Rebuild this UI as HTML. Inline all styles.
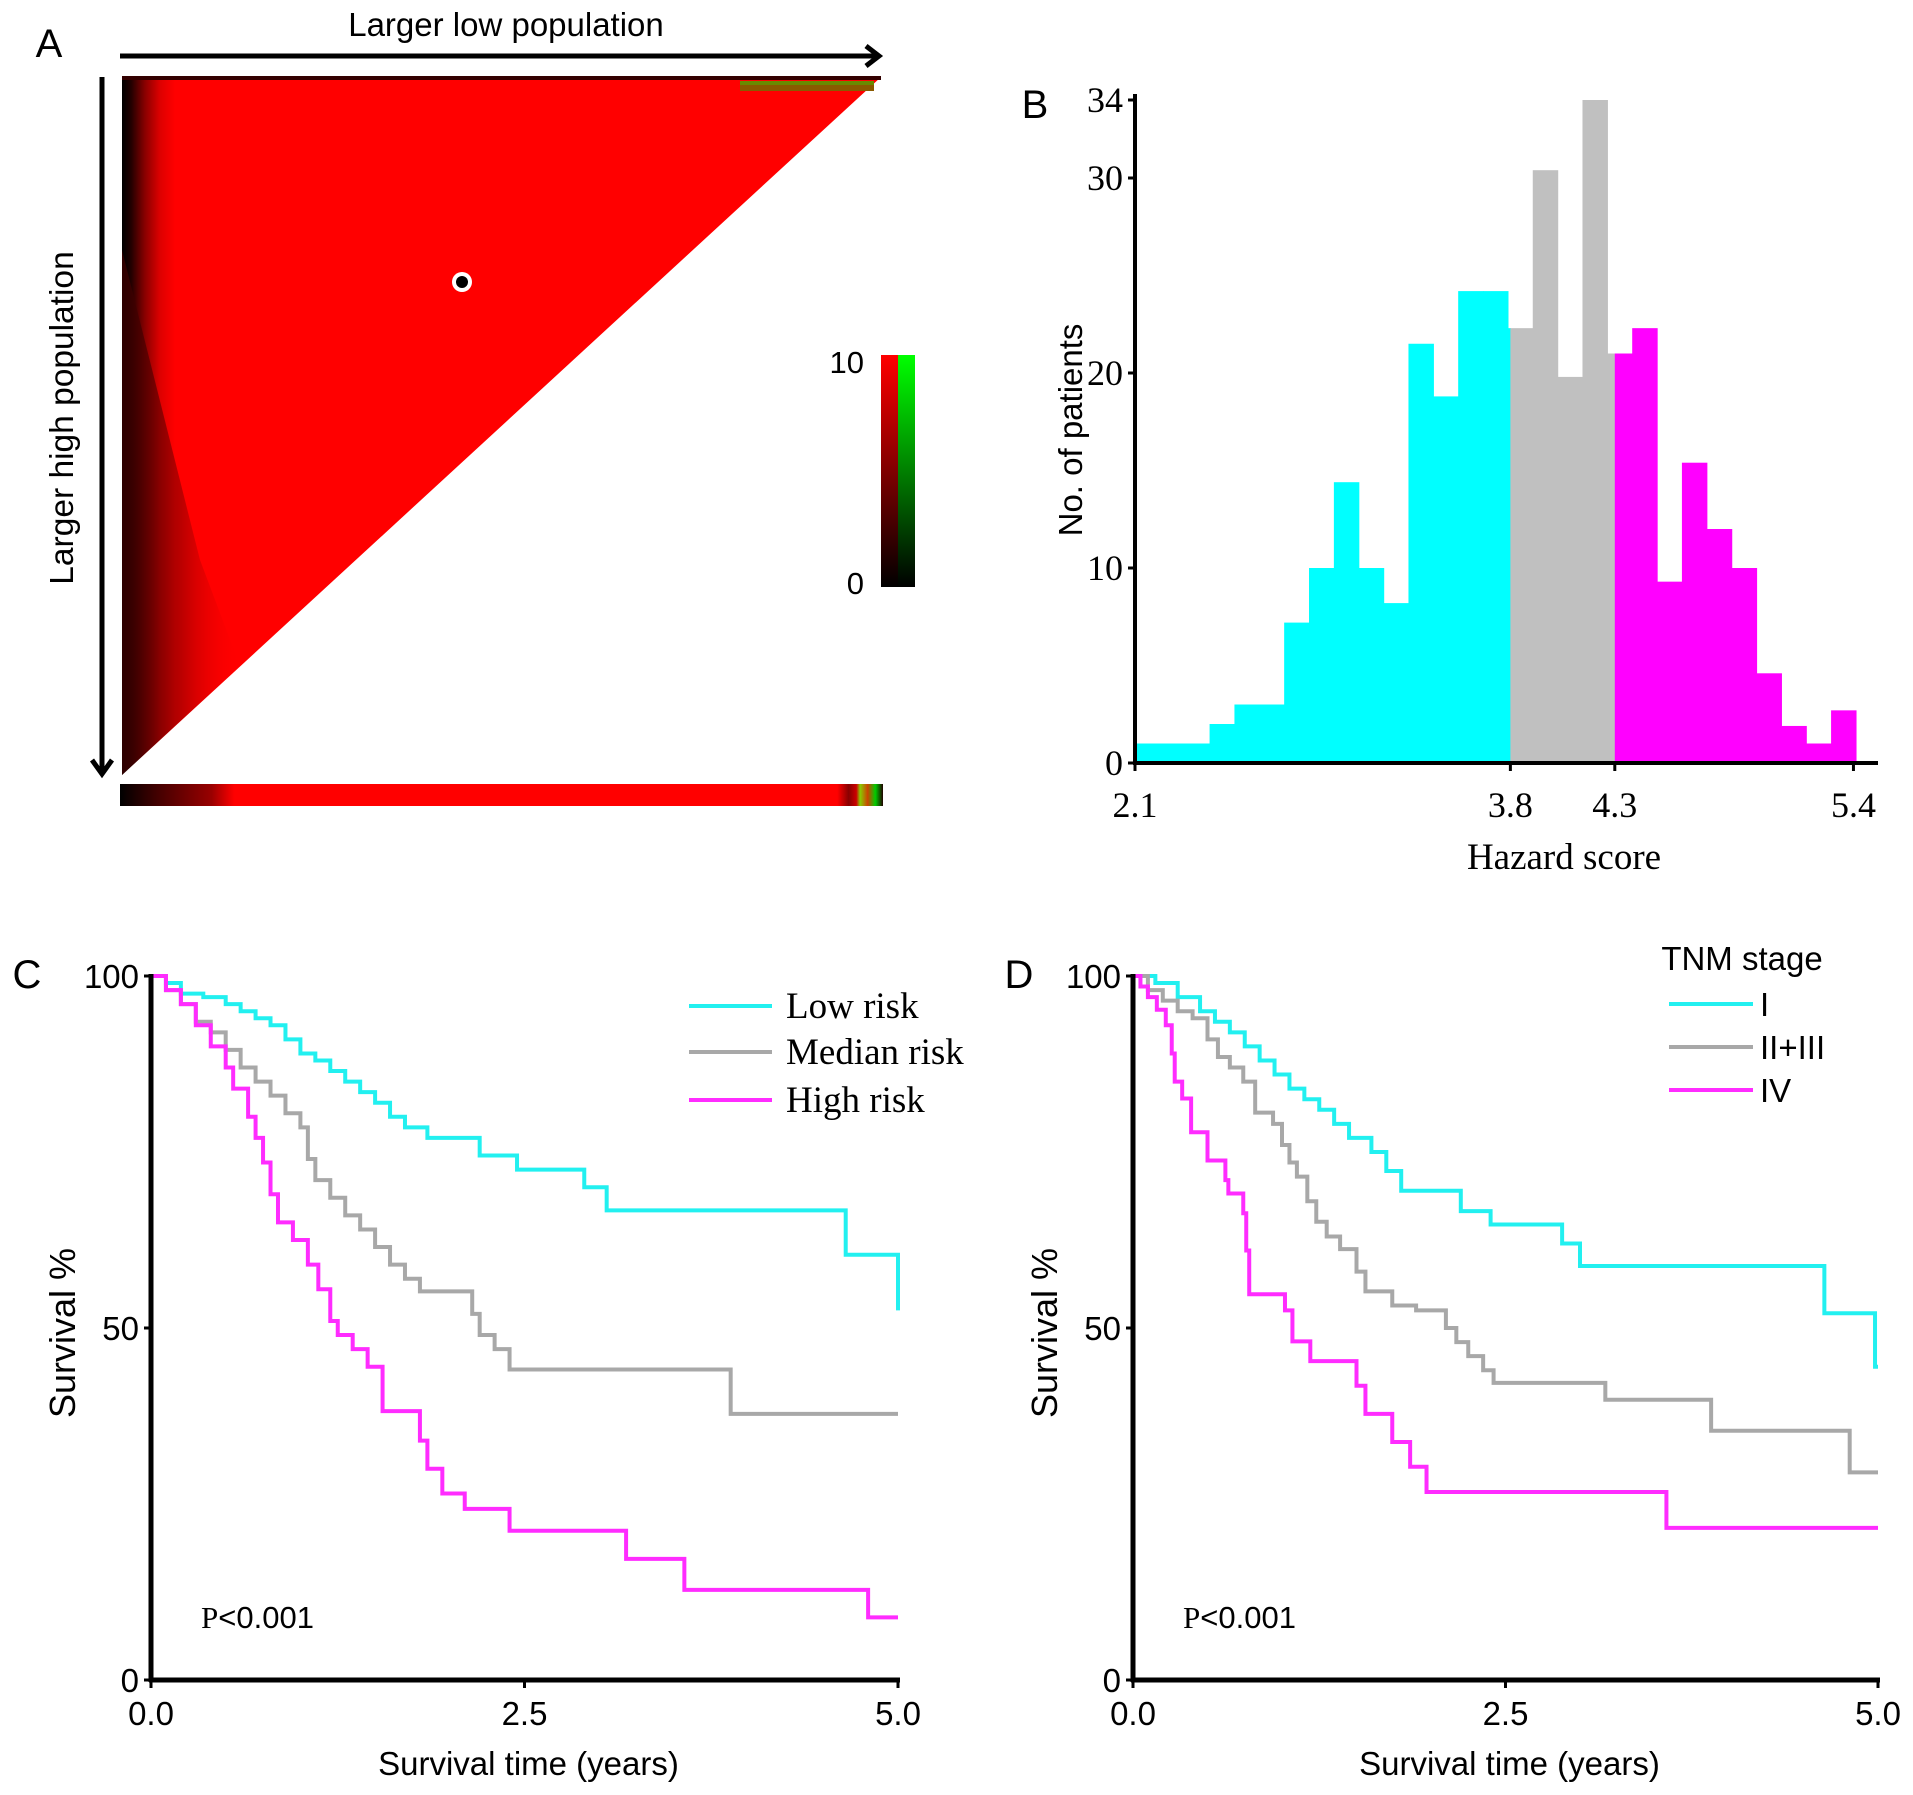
<!DOCTYPE html>
<html><head><meta charset="utf-8">
<style>
html,body{margin:0;padding:0;background:#fff;}
svg{display:block;}
.sans{font-family:"Liberation Sans",sans-serif;}
.serif{font-family:"Liberation Serif",serif;}
</style></head>
<body>
<svg id="fig" width="1913" height="1795" viewBox="0 0 1913 1795" xmlns="http://www.w3.org/2000/svg">
<defs>
<linearGradient id="triGrad" x1="122" y1="0" x2="881" y2="0" gradientUnits="userSpaceOnUse">
<stop offset="0" stop-color="#000"/><stop offset="0.012" stop-color="#200"/><stop offset="0.03" stop-color="#800"/><stop offset="0.05" stop-color="#d00"/><stop offset="0.07" stop-color="#f00"/><stop offset="1" stop-color="#f00"/>
</linearGradient>
<linearGradient id="wedgeGrad" x1="122" y1="0" x2="240" y2="0" gradientUnits="userSpaceOnUse">
<stop offset="0" stop-color="#300" stop-opacity="0.9"/><stop offset="0.5" stop-color="#600" stop-opacity="0.45"/><stop offset="1" stop-color="#f00" stop-opacity="0"/>
</linearGradient>
<linearGradient id="barGrad" x1="120" y1="0" x2="883" y2="0" gradientUnits="userSpaceOnUse">
<stop offset="0" stop-color="#000"/><stop offset="0.05" stop-color="#400"/><stop offset="0.12" stop-color="#900"/><stop offset="0.15" stop-color="#f00"/><stop offset="0.94" stop-color="#f00"/><stop offset="0.955" stop-color="#800"/><stop offset="0.965" stop-color="#c00"/><stop offset="0.97" stop-color="#8c0"/><stop offset="0.98" stop-color="#c40"/><stop offset="0.99" stop-color="#0c0"/><stop offset="1" stop-color="#200"/>
</linearGradient>
<linearGradient id="cbRed" x1="0" y1="355" x2="0" y2="587" gradientUnits="userSpaceOnUse">
<stop offset="0" stop-color="#f00"/><stop offset="1" stop-color="#000"/></linearGradient>
<linearGradient id="cbGreen" x1="0" y1="355" x2="0" y2="587" gradientUnits="userSpaceOnUse">
<stop offset="0" stop-color="#0f0"/><stop offset="1" stop-color="#000"/></linearGradient>
</defs>

<!-- Panel A -->
<g>
<text x="49" y="57" class="sans" font-size="40" text-anchor="middle">A</text>
<text x="506" y="36" class="sans" font-size="33" text-anchor="middle">Larger low population</text>
<line x1="120" y1="56" x2="878" y2="56" stroke="#000" stroke-width="5"/>
<polyline points="866,46 879,56 866,66" fill="none" stroke="#000" stroke-width="5"/>
<line x1="102" y1="77" x2="102" y2="772" stroke="#000" stroke-width="5"/>
<polyline points="92,760 102,774 112,760" fill="none" stroke="#000" stroke-width="5"/>
<text transform="translate(73,418) rotate(-90)" class="sans" font-size="33.5" text-anchor="middle">Larger high population</text>
<polygon points="122,77 881,77 122,775" fill="url(#triGrad)"/>
<polygon points="122,250 200,560 240,666 122,775" fill="url(#wedgeGrad)"/>
<rect x="122" y="76" width="759" height="4" fill="#300"/>
<rect x="740" y="81" width="134" height="10" fill="#8a5a00"/>
<rect x="740" y="81" width="134" height="4" fill="#6a8a00"/>
<circle cx="462" cy="282" r="10" fill="#fff"/>
<circle cx="462" cy="282" r="6" fill="#000"/>
<rect x="881" y="355" width="17" height="232" fill="url(#cbRed)"/>
<rect x="898" y="355" width="17" height="232" fill="url(#cbGreen)"/>
<text x="864" y="373" class="sans" font-size="31" text-anchor="end">10</text>
<text x="864" y="594" class="sans" font-size="31" text-anchor="end">0</text>
<rect x="120" y="784" width="763" height="22" fill="url(#barGrad)"/>
</g>

<g id="panelB"></g>
<g id="panelC"></g>
<g id="panelD"></g>
</svg>

<script>
// ---------- Panel B data ----------
const histCounts = [1,1,1,2,3,3,7.2,10,14.4,10,8.2,21.5,18.8,24.2,24.2,22.3,30.4,19.8,34,21,22.3,9.3,15.4,12,10,4.6,1.9,1,2.7];
const histCut1 = 15.1;   // bin-index position of 3.8 threshold
const histCut2 = 19.3;   // bin-index position of 4.3 threshold
const histXTickPos = [0,15.1,19.3,28.9];
const histXTickLabels = ["2.1","3.8","4.3","5.4"];
const histYTicks = [0,10,20,30,34];

// ---------- Panel C data ----------
const kmC_low_t = [0,0.1,0.2,0.35,0.5,0.6,0.7,0.8,0.9,1.0,1.1,1.2,1.3,1.4,1.5,1.6,1.7,1.85,2.2,2.45,2.9,3.05,4.65,5.0];
const kmC_low_s = [100,99,97.5,97,96,95,94,93,91,89,88,86.5,85,83.5,82,80,78.5,77,74.5,72.5,70,66.7,60.4,52.5];
const kmC_med_t = [0,0.1,0.2,0.3,0.4,0.5,0.6,0.7,0.8,0.9,1.0,1.05,1.1,1.2,1.3,1.4,1.5,1.6,1.7,1.8,2.15,2.2,2.3,2.4,3.88];
const kmC_med_s = [100,98,96,93.5,92,89.5,87,85,83,80.5,78.5,74,71,68.5,66,64,61.5,59,57,55.2,52,49,47,44.1,37.8];
const kmC_high_t = [0,0.1,0.2,0.3,0.4,0.5,0.55,0.65,0.7,0.75,0.8,0.85,0.95,1.05,1.12,1.2,1.25,1.35,1.45,1.55,1.8,1.85,1.95,2.1,2.4,3.18,3.57,4.8];
const kmC_high_s = [100,98,96,93,90,87,84,80,77,73.5,69,65,62.5,59,55.5,51,49,47,44.5,38.2,34,30,26.5,24.3,21.2,17.2,12.8,8.9];

// ---------- Panel D data ----------
const kmD_I_t = [0,0.15,0.3,0.45,0.55,0.65,0.75,0.85,0.95,1.05,1.15,1.25,1.35,1.45,1.6,1.7,1.8,2.2,2.4,2.88,3.0,4.64,4.98];
const kmD_I_s = [100,99,97,95,93.5,92,90,88,86,84,82.5,81,79,77,75,72.3,69.5,66.6,64.7,62,58.8,52.1,44.5];
const kmD_II_t = [0,0.1,0.2,0.3,0.4,0.5,0.57,0.65,0.74,0.82,0.94,1.0,1.05,1.1,1.17,1.23,1.3,1.39,1.5,1.56,1.74,1.9,2.1,2.17,2.25,2.35,2.42,3.17,3.88,4.81];
const kmD_II_s = [100,98,96.5,95,94,91,88.5,87,85,80.6,79,76,73.5,71.5,68,65.1,63,61.2,58,55.2,53.2,52.5,50,48,46,44,42.2,39.8,35.4,29.5];
const kmD_IV_t = [0,0.05,0.1,0.16,0.22,0.26,0.28,0.33,0.39,0.5,0.62,0.64,0.74,0.76,0.78,1.02,1.07,1.19,1.5,1.56,1.74,1.86,1.97,3.58];
const kmD_IV_s = [100,98.5,97,95.2,93,89,85,82.6,77.8,73.8,71,69.1,66.3,61,54.8,52.5,48.1,45.3,41.8,37.8,33.8,30.3,26.7,21.6];

const kmXTicks = [0,2.5,5];
const kmXTickLabels = ["0.0","2.5","5.0"];
const kmYTicks = [0,50,100];

const NS = "http://www.w3.org/2000/svg";
function mk(parent, tag, attrs, text){
  const el = document.createElementNS(NS, tag);
  for (const k in attrs) el.setAttribute(k, attrs[k]);
  if (text !== undefined) el.textContent = text;
  parent.appendChild(el);
  return el;
}

// ---------- Draw Panel B ----------
(function(){
  const g = document.getElementById('panelB');
  const X0 = 1135, BW = 24.86, Y0 = 763, YU = 19.5;
  const xs = i => X0 + i*BW;
  const ys = v => Y0 - v*YU;
  const colors = ["#00ffff","#c0c0c0","#ff00ff"];
  const bounds = [0, histCut1, histCut2, 1e9];
  histCounts.forEach((c,i)=>{
    for (let k=0;k<3;k++){
      const a = Math.max(i, bounds[k]), b = Math.min(i+1, bounds[k+1]);
      if (b > a){
        const r = mk(g,'rect',{x:xs(a),y:ys(c),width:xs(b)-xs(a)+0.6,height:Y0-ys(c),fill:colors[k]});
        
        
      }
    }
  });
  let el;
  el = mk(g,'line',{x1:X0,y1:ys(34)-6,x2:X0,y2:Y0+2,stroke:'#000','stroke-width':4});
   
  el = mk(g,'line',{x1:X0-2,y1:Y0,x2:1878,y2:Y0,stroke:'#000','stroke-width':4});
   
  histYTicks.forEach(v=>{
    const t = mk(g,'line',{x1:X0-7,y1:ys(v),x2:X0,y2:ys(v),stroke:'#000','stroke-width':3});
     
    const l = mk(g,'text',{x:X0-12,y:ys(v)+12,'font-size':36,'text-anchor':'end','class':'serif'}, String(v));
     
  });
  histXTickPos.forEach((p,i)=>{
    const t = mk(g,'line',{x1:xs(p),y1:Y0,x2:xs(p),y2:Y0+8,stroke:'#000','stroke-width':3});
     
    const l = mk(g,'text',{x:xs(p),y:Y0+54,'font-size':36,'text-anchor':'middle','class':'serif'}, histXTickLabels[i]);
     
  });
  el = mk(g,'text',{x:1564,y:869,'font-size':37,'text-anchor':'middle','class':'serif'},'Hazard score');
   
  el = mk(g,'text',{transform:'translate(1082,430) rotate(-90)','font-size':33,'text-anchor':'middle','class':'sans'},'No. of patients');
   
  el = mk(g,'text',{x:1035,y:118,'font-size':40,'text-anchor':'middle','class':'sans'},'B');
   
})();

// ---------- KM drawing ----------
function drawKM(gid, X0, X1, series, letter, letterX, legend){
  const g = document.getElementById(gid);
  const Y0 = 1680, Y100 = 976;
  const xs = t => X0 + t/5*(X1-X0);
  const ys = s => Y0 - s/100*(Y0-Y100);
  series.forEach(sr=>{
    let d = 'M'+xs(sr.t[0])+','+ys(sr.s[0]);
    for (let i=1;i<sr.t.length;i++){
      d += ' H'+xs(sr.t[i])+' V'+ys(sr.s[i]);
    }
    d += ' H'+xs(5);
    const p = mk(g,'path',{d:d,fill:'none',stroke:sr.color,'stroke-width':4,'stroke-linejoin':'miter'});
    
    
  });
  let el;
  el = mk(g,'line',{x1:X0,y1:Y100-2,x2:X0,y2:Y0+2,stroke:'#000','stroke-width':5});
   
  el = mk(g,'line',{x1:X0-2,y1:Y0,x2:X1+2,y2:Y0,stroke:'#000','stroke-width':5});
   
  kmYTicks.forEach(v=>{
    const t = mk(g,'line',{x1:X0-7,y1:ys(v),x2:X0,y2:ys(v),stroke:'#000','stroke-width':3});
     
    const l = mk(g,'text',{x:X0-12,y:ys(v)+12,'font-size':33,'text-anchor':'end','class':'sans'}, String(v));
     
  });
  kmXTicks.forEach((v,i)=>{
    const t = mk(g,'line',{x1:xs(v),y1:Y0,x2:xs(v),y2:Y0+8,stroke:'#000','stroke-width':3});
     
    const l = mk(g,'text',{x:xs(v),y:Y0+45,'font-size':33,'text-anchor':'middle','class':'sans'}, kmXTickLabels[i]);
     
  });
  el = mk(g,'text',{x:(X0+X1)/2+4,y:1775,'font-size':33,'text-anchor':'middle','class':'sans'},'Survival time (years)');
   
  el = mk(g,'text',{transform:'translate('+(X0-76)+',1333) rotate(-90)','font-size':36,'text-anchor':'middle','class':'sans'},'Survival %');
   
  el = mk(g,'text',{x:letterX,y:988,'font-size':40,'text-anchor':'middle','class':'sans'},letter);
   
  const pt = mk(g,'text',{x:X0+50,y:1628,'font-size':31});
   
  mk(pt,'tspan',{'class':'serif'},'P');
  mk(pt,'tspan',{'class':'sans'},'<0.001');
  legend(g);
}

drawKM('panelC',151,898,[
  {t:kmC_low_t,s:kmC_low_s,color:'#22f0f0',name:'low-risk-curve'},
  {t:kmC_med_t,s:kmC_med_s,color:'#a8a8a8',name:'median-risk-curve'},
  {t:kmC_high_t,s:kmC_high_s,color:'#ff2cff',name:'high-risk-curve'}
],'C',27,function(g){
  const items=[['Low risk','#22f0f0',1006],['Median risk','#a8a8a8',1052],['High risk','#ff2cff',1100]];
  items.forEach(it=>{
    const ln = mk(g,'line',{x1:689,y1:it[2],x2:772,y2:it[2],stroke:it[1],'stroke-width':4});
     
    const tx = mk(g,'text',{x:786,y:it[2]+12,'font-size':37,'class':'serif'},it[0]);
     
  });
});

drawKM('panelD',1133,1878,[
  {t:kmD_I_t,s:kmD_I_s,color:'#22f0f0',name:'stage-i-curve'},
  {t:kmD_II_t,s:kmD_II_s,color:'#a8a8a8',name:'stage-ii-iii-curve'},
  {t:kmD_IV_t,s:kmD_IV_s,color:'#ff2cff',name:'stage-iv-curve'}
],'D',1019,function(g){
  const tt = mk(g,'text',{x:1742,y:970,'font-size':33,'text-anchor':'middle','class':'sans'},'TNM stage');
   
  const items=[['I','#22f0f0',1004],['II+III','#a8a8a8',1047],['IV','#ff2cff',1090]];
  items.forEach(it=>{
    const ln = mk(g,'line',{x1:1669,y1:it[2],x2:1753,y2:it[2],stroke:it[1],'stroke-width':4});
     
    const tx = mk(g,'text',{x:1760,y:it[2]+12,'font-size':33,'class':'sans'},it[0]);
     
  });
});
</script>
</body></html>
